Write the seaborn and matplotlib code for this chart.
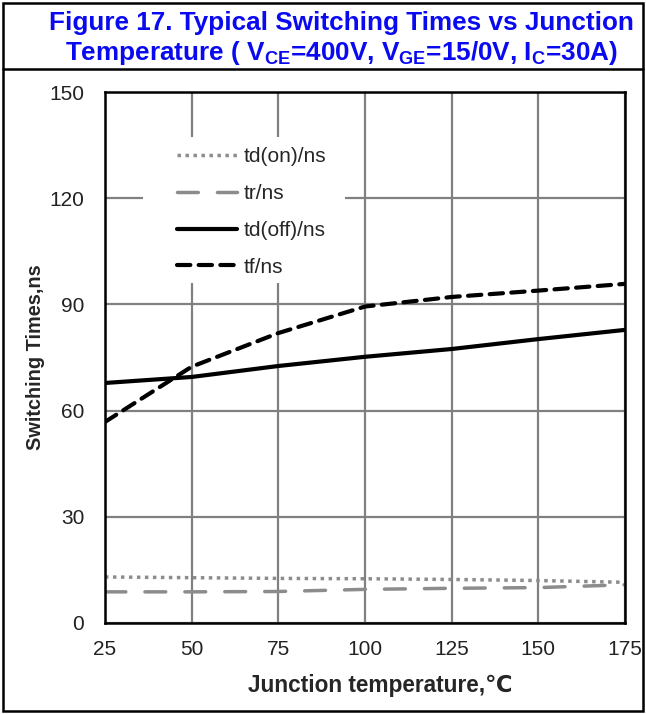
import matplotlib
matplotlib.use("Agg")
import matplotlib.pyplot as plt
import seaborn as sns
import pandas as pd
from matplotlib.patches import Rectangle
from matplotlib.lines import Line2D

temps = [25, 50, 75, 100, 125, 150, 175]
td_on = [13.0, 12.8, 12.6, 12.5, 12.3, 12.0, 11.5]
tr = [8.8, 8.8, 8.9, 9.5, 9.8, 10.0, 10.8]
td_off = [67.8, 69.5, 72.6, 75.2, 77.4, 80.2, 82.8]
tf = [56.8, 72.4, 81.9, 89.4, 92.1, 93.9, 95.8]
series_names = ["td(on)/ns", "tr/ns", "td(off)/ns", "tf/ns"]
x_ticks = [25, 50, 75, 100, 125, 150, 175]
y_ticks = [0, 30, 60, 90, 120, 150]

sns.set_theme(style="white")
plt.rcParams['font.family'] = ['Liberation Sans', 'DejaVu Sans']
plt.rcParams['mathtext.fontset'] = 'custom'
plt.rcParams['mathtext.rm'] = 'Liberation Sans:bold'
plt.rcParams['mathtext.default'] = 'rm'

fig = plt.figure(figsize=(6.46, 7.14), dpi=100)
W, H = 646, 714
ax = fig.add_axes([105 / W, 1 - 623 / H, 520 / W, 531 / H])

styles = {
    "td(on)/ns": dict(color="#8c8c8c", lw=2.5, dashes=(1.0, 1.3), cap="butt"),
    "tr/ns": dict(color="#8c8c8c", lw=2.5, dashes=(6.0, 5.5), cap="round"),
    "td(off)/ns": dict(color="black", lw=3.0, dashes=None, cap="round"),
    "tf/ns": dict(color="black", lw=3.0, dashes=(3.2, 2.0), cap="round"),
}
data = {"td(on)/ns": td_on, "tr/ns": tr, "td(off)/ns": td_off, "tf/ns": tf}

for name in series_names:
    df = pd.DataFrame({"T": temps, "v": data[name]})
    st = styles[name]
    sns.lineplot(data=df, x="T", y="v", ax=ax, color=st["color"], lw=st["lw"],
                 legend=False, zorder=3)
    ln = ax.lines[-1]
    if st["dashes"] is not None:
        ln.set_dashes(st["dashes"])
    ln.set_dash_capstyle(st["cap"])
    ln.set_solid_capstyle("round")

ax.set_xlim(25, 175)
ax.set_ylim(0, 150)
ax.set_xticks(x_ticks)
ax.set_yticks(y_ticks)
ax.grid(True, color="#808080", lw=1.6)
ax.set_axisbelow(True)
for sp in ax.spines.values():
    sp.set_color("black")
    sp.set_linewidth(1.8)
    sp.set_zorder(4)
ax.tick_params(axis="y", length=0, labelsize=15, pad=15, colors="#222222")
ax.tick_params(axis="x", length=0, labelsize=15, pad=12, colors="#222222")
ax.set_xlabel("Junction temperature,℃", fontsize=16.3, fontweight="bold", labelpad=11)
ax.xaxis.label.set_x((380 - 105) / 520)
ax.set_ylabel("Switching Times,ns", fontsize=14.3, fontweight="bold", labelpad=3)

# white area behind legend (hides grid like the reference)
ax.add_patch(Rectangle(((143 - 105) / 520, (623 - 283) / 531), (345 - 143) / 520,
                       (283 - 137) / 531, transform=ax.transAxes, fc="white",
                       ec="none", zorder=2))

# legend
handles = []
for name in series_names:
    st = styles[name]
    h = Line2D([], [], color=st["color"], lw=st["lw"])
    if st["dashes"] is not None:
        h.set_dashes(st["dashes"])
    h.set_dash_capstyle(st["cap"])
    handles.append(h)
leg = ax.legend(handles, series_names, loc="upper left",
                bbox_to_anchor=((177 - 105) / 520, 1 - (147 - 92) / 531),
                frameon=False, fontsize=15, handlelength=2.9, handletextpad=0.3,
                labelspacing=0.86, borderaxespad=0, borderpad=0)

# title
tx = 341 / W
fig.text(tx, 1 - 23 / H, "Figure 17. Typical Switching Times vs Junction",
         ha="center", va="center", color="#0a0af0", fontsize=18.8, fontweight="bold")
fig.text(tx, 1 - 53 / H,
         "Temperature ( V$_{CE}$=400V, V$_{GE}$=15/0V, I$_{C}$=30A)",
         ha="center", va="center", color="#0a0af0", fontsize=18.8, fontweight="bold")

# frame
fig.add_artist(Rectangle((3 / W, 3 / H), 640 / W, 708 / H, transform=fig.transFigure,
                         fill=False, ec="black", lw=1.8))
fig.add_artist(Line2D([3 / W, 643 / W], [1 - 69 / H, 1 - 69 / H],
                      transform=fig.transFigure, color="black", lw=1.8))

fig.savefig("out.png", dpi=100)
